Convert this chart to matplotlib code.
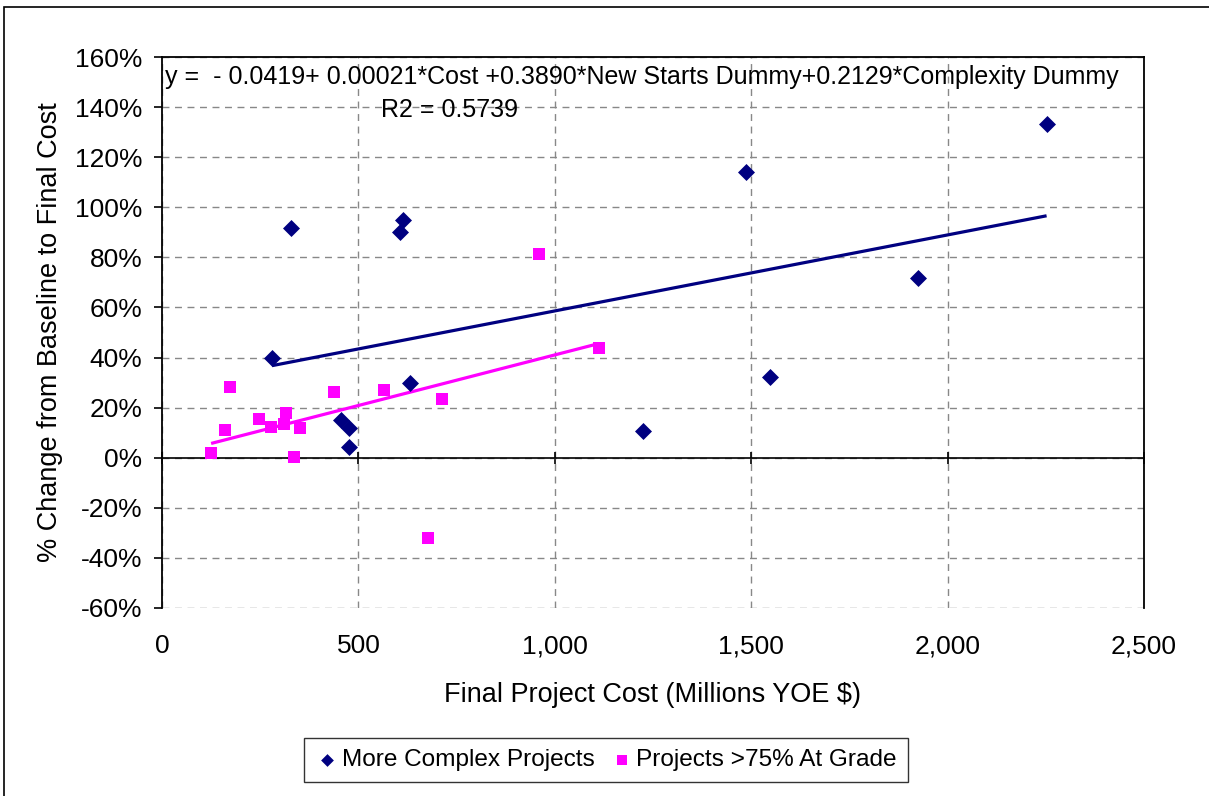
import numpy as np
import matplotlib
matplotlib.use("Agg")
import matplotlib.pyplot as plt
from matplotlib.ticker import FuncFormatter, MultipleLocator
from matplotlib.patches import Rectangle

plt.rcParams['font.family'] = ['Liberation Sans', 'DejaVu Sans']

# Data (Final project cost in $M YOE, % change baseline->final)
complex_cost = [328, 613, 607, 280, 631, 456, 477, 475, 1486, 2252, 1924, 1547, 1224]
complex_pct = [91.8, 95.0, 90.2, 39.8, 29.8, 15.1, 12.0, 4.4, 114.3, 133.5, 71.9, 32.3, 10.7]

atgrade_cost = [174, 160, 125, 248, 277, 316, 311, 351, 335, 439, 566, 712, 960, 1112, 677]
atgrade_pct = [28.4, 11.1, 1.8, 15.5, 12.4, 17.8, 13.5, 11.8, 0.2, 26.2, 27.1, 23.4, 81.5, 43.9, -32.1]

series_labels = ["More Complex Projects", "Projects >75% At Grade"]
equation_text = "y =  - 0.0419+ 0.00021*Cost +0.3890*New Starts Dummy+0.2129*Complexity Dummy"
r2_text = "R2 = 0.5739"
x_label = "Final Project Cost (Millions YOE $)"
y_label = "% Change from Baseline to Final Cost"

NAVY = "#000080"
MAGENTA = "#FF00FF"

W, H = 1209, 796
fig = plt.figure(figsize=(W / 100, H / 100), dpi=100)

# outer chart frame (cut at right/bottom)
fig.patches.append(Rectangle((4 / W, -0.1), 1.2, 1 - 7 / H + 0.1, transform=fig.transFigure,
                             fill=False, edgecolor='black', linewidth=1.2, zorder=0))

ax_l, ax_r, ax_t, ax_b = 162 / W, 1144 / W, 1 - 57.3 / H, 1 - 607.7 / H
ax = fig.add_axes([ax_l, ax_b, ax_r - ax_l, ax_t - ax_b])

cx = np.array(complex_cost, float)
cy = np.array(complex_pct, float) / 100
gx = np.array(atgrade_cost, float)
gy = np.array(atgrade_pct, float) / 100

ax.scatter(cx, cy, marker='D', s=75, color=NAVY, linewidths=0, zorder=4, label=series_labels[0])
ax.scatter(gx, gy, marker='s', s=80, color=MAGENTA, linewidths=0, zorder=4, label=series_labels[1])

# linear trendlines
for x, y, c in [(cx, cy, NAVY), (gx, gy, MAGENTA)]:
    m, b = np.polyfit(x, y, 1)
    xs = np.array([x.min(), x.max()])
    ax.plot(xs, m * xs + b, color=c, linewidth=2.3, zorder=3, solid_capstyle='butt')

ax.set_xlim(0, 2500)
ax.set_ylim(-0.6, 1.6)
ax.xaxis.set_major_locator(MultipleLocator(500))
ax.yaxis.set_major_locator(MultipleLocator(0.2))
ax.yaxis.set_major_formatter(FuncFormatter(lambda v, p: f"{v*100:.0f}%"))

ax.grid(True, color='#888888', linestyle=(0, (5, 4)), linewidth=1.0, zorder=0)

for s in ['top', 'right', 'left']:
    ax.spines[s].set_color('black')
    ax.spines[s].set_linewidth(1.3)
ax.spines['bottom'].set_position(('data', 0))
ax.spines['bottom'].set_linewidth(1.2)
ax.spines['bottom'].set_zorder(2)

ax.tick_params(axis='x', direction='inout', length=9, width=1.2, labelbottom=False)
ax.tick_params(axis='y', direction='out', length=6, width=1.2, labelsize=19, pad=8)

sec = ax.secondary_xaxis(0)
sec.set_xticks(np.arange(0, 2501, 500))
sec.xaxis.set_major_formatter(FuncFormatter(lambda v, p: f"{v:,.0f}"))
sec.tick_params(axis='x', length=0, labelsize=19, pad=19)
for s in sec.spines.values():
    s.set_visible(False)

sec.set_xlabel(x_label, fontsize=19.5, labelpad=17)
ax.set_ylabel(y_label, fontsize=19.5, labelpad=9)

ax.text(0.003, 0.964, equation_text, transform=ax.transAxes, fontsize=18,
        ha='left', va='center', zorder=5)
ax.text(0.223, 0.904, r2_text, transform=ax.transAxes, fontsize=18,
        ha='left', va='center', zorder=5)

leg = fig.legend(loc='center', bbox_to_anchor=(606 / W, 1 - 760 / H), ncol=2,
                 fontsize=17.6, frameon=True, fancybox=False, edgecolor='black',
                 handletextpad=0.1, columnspacing=0.6, handlelength=1.0,
                 borderpad=0.45, markerscale=0.75)
leg.get_frame().set_linewidth(1.0)

fig.savefig("out.png", dpi=100)
